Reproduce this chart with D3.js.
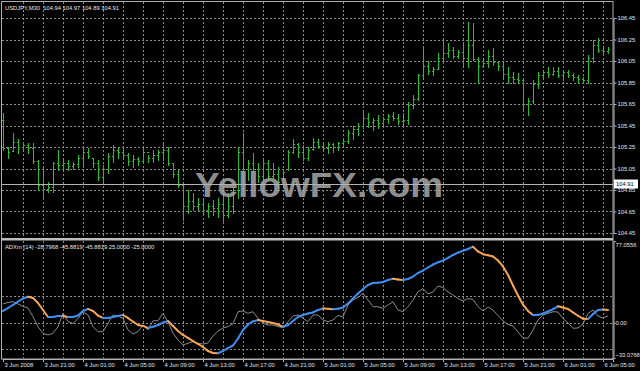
<!DOCTYPE html>
<html>
<head>
<meta charset="utf-8">
<script src="https://cdn.jsdelivr.net/npm/d3@7"></script>
<style>
  body { margin: 0; background: #000; }
  svg { display: block; }
  text { font-family: "Liberation Sans", Arial, sans-serif; }
</style>
</head>
<body>
<div id="chart"></div>
<script>
// USDJPY M30 bars, 3 Jun 17:00 .. 6 Jun 05:30
var barOpen = [105.50,105.24,105.21,105.30,105.25,105.27,105.24,105.12,104.90,104.86,
  104.88,105.10,105.08,105.10,105.07,105.09,105.15,105.20,105.15,105.10,
  104.97,105.05,105.17,105.22,105.20,105.18,105.12,105.14,105.12,105.20,
  105.15,105.18,105.20,105.22,105.10,105.00,104.90,104.70,104.75,104.70,
  104.72,104.66,104.70,104.68,104.72,104.62,104.70,104.85,105.20,105.05,
  105.10,105.05,104.98,105.10,104.98,105.00,104.92,105.05,105.20,105.28,
  105.20,105.15,105.23,105.30,105.26,105.24,105.28,105.25,105.29,105.31,
  105.38,105.42,105.45,105.52,105.48,105.50,105.47,105.51,105.54,105.52,
  105.49,105.50,105.64,105.70,105.92,106.00,105.96,105.98,106.08,106.12,
  106.15,106.10,106.13,106.08,106.20,106.07,106.00,106.03,106.10,106.04,
  106.00,105.93,105.90,105.88,105.87,105.65,105.68,105.84,105.92,105.95,
  105.93,105.96,105.92,105.95,105.92,105.90,105.88,105.87,106.08,106.20,
  106.15,106.14];
var barHigh = [105.57,105.25,105.38,105.32,105.30,105.29,105.29,105.13,105.06,104.92,
  105.11,105.22,105.13,105.13,105.11,105.18,105.25,105.24,105.15,105.13,
  105.08,105.19,105.27,105.25,105.25,105.19,105.18,105.16,105.25,105.18,
  105.22,105.22,105.29,105.25,105.10,105.04,104.92,104.85,104.82,104.78,
  104.76,104.73,104.76,104.78,104.82,104.82,104.88,105.25,105.38,105.13,
  105.19,105.10,105.15,105.13,105.10,105.06,105.04,105.22,105.32,105.29,
  105.27,105.25,105.33,105.32,105.30,105.30,105.29,105.30,105.33,105.41,
  105.45,105.47,105.59,105.57,105.52,105.55,105.53,105.56,105.58,105.56,
  105.57,105.67,105.73,105.93,106.17,106.05,105.99,106.12,106.25,106.22,
  106.18,106.15,106.22,106.41,106.40,106.09,106.06,106.15,106.17,106.04,
  106.03,105.99,105.95,105.94,105.87,105.71,105.87,105.95,105.97,105.99,
  105.99,105.99,105.97,105.97,105.94,105.92,105.90,106.11,106.25,106.26,
  106.17,106.18];
var barLow = [105.22,105.15,105.22,105.19,105.22,105.19,105.10,104.85,104.78,104.83,
  104.83,105.04,105.04,105.04,105.05,105.06,105.08,105.15,105.06,104.94,
  104.92,105.01,105.11,105.15,105.16,105.08,105.06,105.08,105.10,105.11,
  105.11,105.13,105.13,105.08,104.97,104.88,104.57,104.64,104.66,104.66,
  104.62,104.60,104.62,104.60,104.54,104.60,104.64,104.78,104.82,104.94,
  105.01,104.92,104.97,104.94,104.96,104.88,104.92,105.04,105.19,105.16,
  105.13,105.13,105.22,105.24,105.22,105.19,105.20,105.22,105.27,105.29,
  105.32,105.36,105.43,105.44,105.41,105.43,105.45,105.47,105.50,105.46,
  105.45,105.46,105.61,105.69,105.90,105.93,105.92,105.98,106.03,106.09,
  106.08,106.08,106.01,105.99,106.06,105.85,105.99,105.99,106.01,105.97,
  105.90,105.85,105.85,105.85,105.59,105.55,105.66,105.80,105.90,105.90,
  105.92,105.90,105.87,105.90,105.87,105.85,105.85,105.85,106.04,106.13,
  106.11,106.12];
var barClose = [105.24,105.20,105.30,105.25,105.27,105.24,105.12,104.90,104.86,104.88,
  105.10,105.08,105.10,105.07,105.09,105.15,105.20,105.17,105.10,104.97,
  105.05,105.17,105.22,105.20,105.18,105.12,105.14,105.12,105.20,105.15,
  105.18,105.20,105.22,105.10,105.00,104.90,104.70,104.75,104.70,104.72,
  104.66,104.70,104.68,104.72,104.62,104.70,104.85,105.20,105.05,105.10,
  105.05,104.98,105.10,104.98,105.00,104.92,105.02,105.20,105.28,105.20,
  105.15,105.22,105.30,105.26,105.24,105.28,105.25,105.29,105.31,105.38,
  105.42,105.45,105.52,105.48,105.50,105.47,105.51,105.54,105.52,105.49,
  105.50,105.64,105.70,105.92,106.00,105.96,105.98,106.08,106.12,106.15,
  106.10,106.13,106.08,106.20,106.07,106.00,106.03,106.10,106.04,106.00,
  105.93,105.90,105.88,105.87,105.65,105.68,105.84,105.92,105.95,105.93,
  105.96,105.92,105.95,105.92,105.90,105.88,105.87,106.08,106.20,106.15,
  106.14,106.16];

// ADXm (14) indicator: main coloured line and grey line
var adxLine = [11.2,14.0,16.8,20.1,22.9,24.6,23.4,18.7,12.1,5.5,
  5.5,6.5,6.5,5.5,5.5,6.9,11.2,13.1,11.2,6.9,
  4.6,4.6,5.5,6.5,7.4,4.6,1.1,-2.0,-2.9,-4.8,
  -3.6,-2.0,0.2,1.8,-2.9,-7.7,-11.4,-14.2,-17.1,-19.9,
  -22.7,-26.5,-28.4,-28.6,-26.5,-23.7,-21.3,-14.7,-6.7,-1.5,
  1.3,2.7,1.8,0.8,-0.1,-1.5,-3.9,-2.0,1.8,5.5,
  7.4,8.8,9.8,12.1,13.5,13.3,12.9,13.3,14.5,18.2,
  22.9,27.6,31.9,35.6,37.5,37.8,38.5,40.3,41.6,40.8,
  40.3,41.3,43.6,46.9,49.3,52.1,54.9,57.0,58.6,61.1,
  63.9,66.1,67.9,69.5,71.7,67.2,64.6,63.7,62.5,58.7,
  53.1,45.1,35.2,25.8,17.1,11.2,7.4,7.4,8.8,10.7,
  12.9,15.6,14.5,13.1,9.8,6.7,3.9,3.6,8.3,12.1,
  12.6,12.1];
var diLine = [17.8,19.2,19.9,17.8,15.4,14.0,5.8,-3.6,-9.8,-11.4,
  -9.8,-3.6,9.0,1.3,-0.6,4.1,10.5,7.4,-3.6,-8.3,
  -8.3,-0.4,7.4,6.5,4.3,-6.7,-10.5,-8.3,-2.0,-6.7,
  2.0,2.0,9.0,1.1,-9.8,-16.1,-20.8,-19.2,-17.7,-19.2,
  -19.9,-18.9,-12.4,-7.7,-4.8,-3.6,-0.8,10.5,11.2,9.0,
  10.5,4.3,-0.4,-2.0,-2.0,-3.6,-4.2,1.1,6.5,7.4,
  4.3,1.1,7.4,7.4,2.7,1.1,2.7,6.9,5.8,16.8,
  21.5,23.9,27.8,21.5,15.2,15.2,13.7,16.8,19.9,12.1,
  10.5,15.2,21.5,29.3,32.3,27.2,29.1,34.7,33.3,29.1,
  26.2,22.9,20.6,22.9,22.0,15.4,11.2,14.9,12.1,6.9,
  1.8,-1.5,-2.9,-8.6,-14.2,-14.5,-6.7,2.7,7.4,9.0,
  10.5,10.2,4.1,-0.1,-5.1,-4.8,-1.1,8.8,12.1,6.5,
  4.6,6.5];

// axis labels
var timeLabels = ["3 Jun 2008", "3 Jun 21:00", "4 Jun 01:00", "4 Jun 05:00", "4 Jun 09:00",
  "4 Jun 13:00", "4 Jun 17:00", "4 Jun 21:00", "5 Jun 01:00", "5 Jun 05:00", "5 Jun 09:00",
  "5 Jun 13:00", "5 Jun 17:00", "5 Jun 21:00", "6 Jun 01:00", "6 Jun 05:00"];
var priceTicks = [106.45, 106.25, 106.05, 105.85, 105.65, 105.45, 105.25, 105.05, 104.85, 104.65, 104.45];
var adxMax = 77.0556;
var adxMin = -33.0768;
var adxLevels = [25, 0, -25];
var lastPrice = 104.91;
var mainTitle = "USDJPY,M30\u00a0\u00a0104.94 104.97 104.89 104.91";
var adxTitle = "ADXm (14) -28.7968 -45.8819 -45.8819 25.0000 -25.0000";

var svgWidth = 640;
var svgHeight = 371;
var plotLeft = 2, plotRight = 613;
var mainTop = 18, mainBottom = 233;
var subTop = 241, subBottom = 358;
var fontSize = "5.8px";
var gridColor = "#8c8c8c";
var textColor = "#e6e6e6";

var svg = d3.select("#chart").append("svg")
  .attr("width", svgWidth)
  .attr("height", svgHeight)
  .style("background", "#000");

// scales
var x = d3.scaleLinear().domain([0, 122]).range([3, 613]);
var yPrice = d3.scaleLinear().domain([104.45, 106.45]).range([mainBottom, mainTop]);
var yAdx = d3.scaleLinear().domain([adxMin, adxMax]).range([subBottom, subTop]);

// vertical grid every 4 bars, both panes
var gridIdx = d3.range(4, 122, 4);
[[2, 238], [241, 358]].forEach(function(p) {
  svg.append("g").selectAll("line")
    .data(gridIdx).enter().append("line")
    .attr("x1", d => Math.round(x(d)) + 0.5)
    .attr("x2", d => Math.round(x(d)) + 0.5)
    .attr("y1", p[0]).attr("y2", p[1])
    .attr("stroke", gridColor)
    .attr("stroke-dasharray", "2,2")
    .attr("shape-rendering", "crispEdges");
});

// horizontal grid, price pane
svg.append("g").selectAll("line")
  .data(priceTicks).enter().append("line")
  .attr("x1", plotLeft).attr("x2", plotRight)
  .attr("y1", d => Math.round(yPrice(d)) + 0.5)
  .attr("y2", d => Math.round(yPrice(d)) + 0.5)
  .attr("stroke", gridColor)
  .attr("stroke-dasharray", "2,2")
  .attr("shape-rendering", "crispEdges");

// horizontal grid, indicator pane
svg.append("g").selectAll("line")
  .data(adxLevels).enter().append("line")
  .attr("x1", plotLeft).attr("x2", plotRight)
  .attr("y1", d => Math.round(yAdx(d)) + 0.5)
  .attr("y2", d => Math.round(yAdx(d)) + 0.5)
  .attr("stroke", gridColor)
  .attr("stroke-dasharray", "2,2")
  .attr("shape-rendering", "crispEdges");

// OHLC bars
var bars = d3.range(barHigh.length);
svg.append("g").selectAll("path")
  .data(bars).enter().append("path")
  .attr("d", function(i) {
    var px = Math.round(x(i)) + 0.5;
    var yo = Math.round(yPrice(barOpen[i])) + 0.5;
    var yc = Math.round(yPrice(barClose[i])) + 0.5;
    return "M" + px + "," + Math.round(yPrice(barHigh[i])) +
      "V" + (Math.round(yPrice(barLow[i])) + 1) +
      "M" + (px - 1.5) + "," + yo + "H" + px +
      "M" + px + "," + yc + "H" + (px + 1.5);
  })
  .attr("fill", "none")
  .attr("stroke", "#22c322")
  .attr("stroke-width", 1)
  .attr("shape-rendering", "crispEdges");

// watermark
svg.append("text")
  .attr("x", 195).attr("y", 197)
  .attr("textLength", 248)
  .attr("lengthAdjust", "spacingAndGlyphs")
  .attr("fill", "#a2a2a2")
  .attr("fill-opacity", 0.9)
  .style("font-size", "35px")
  .style("font-weight", "bold")
  .text("YellowFX.com");

// bid line
svg.append("line")
  .attr("x1", plotLeft).attr("x2", plotRight)
  .attr("y1", Math.round(yPrice(lastPrice)) + 0.5)
  .attr("y2", Math.round(yPrice(lastPrice)) + 0.5)
  .attr("stroke", "#b4b4b4");

// indicator lines
var grayLine = d3.line().x((d, i) => x(i)).y(d => yAdx(d));
svg.append("path")
  .datum(diLine)
  .attr("d", grayLine)
  .attr("fill", "none")
  .attr("stroke", "#8a8a8a")
  .attr("stroke-width", 1);

svg.append("g").selectAll("line")
  .data(d3.range(adxLine.length - 1)).enter().append("line")
  .attr("x1", i => x(i)).attr("y1", i => yAdx(adxLine[i]))
  .attr("x2", i => x(i + 1)).attr("y2", i => yAdx(adxLine[i + 1]))
  .attr("stroke", i => adxLine[i + 1] >= adxLine[i] ? "#3d8ff0" : "#f5a555")
  .attr("stroke-width", 2)
  .attr("stroke-linecap", "round");

// frame and pane separator
svg.append("rect")
  .attr("x", 1.5).attr("y", 1.5)
  .attr("width", plotRight - 1.5).attr("height", subBottom + 1 - 1.5)
  .attr("fill", "none")
  .attr("stroke", "#b0b0b0");
svg.append("rect")
  .attr("x", 1).attr("y", 238)
  .attr("width", plotRight - 1).attr("height", 2.5)
  .attr("fill", "#bdbdbd");

// price axis
var priceAxis = svg.append("g")
  .attr("transform", `translate(${plotRight + 0.5},0)`)
  .call(d3.axisRight(yPrice).tickValues(priceTicks).tickSize(3).tickPadding(1)
    .tickFormat(d3.format(".2f")));

// indicator axis
var adxAxis = svg.append("g")
  .attr("transform", `translate(${plotRight + 0.5},0)`)
  .call(d3.axisRight(yAdx).tickValues([adxMax, 0, adxMin]).tickSize(2).tickPadding(0)
    .tickFormat(d => d === 0 ? "0.00" : d3.format(".4f")(d)));
adxAxis.selectAll(".tick").filter(d => d === adxMax).select("text").attr("dy", "0.95em");
adxAxis.selectAll(".tick").filter(d => d === adxMin).select("text").attr("dy", "-0.25em");

// time axis
var timeAxis = svg.append("g")
  .attr("transform", `translate(0,${subBottom + 1})`)
  .call(d3.axisBottom(x).tickValues(d3.range(0, 122, 8)).tickSize(3).tickPadding(1)
    .tickFormat((d, k) => timeLabels[k]));
timeAxis.selectAll("text").attr("text-anchor", "start").attr("x", 1);

[priceAxis, adxAxis, timeAxis].forEach(function(a) {
  a.select(".domain").attr("stroke", "#b0b0b0");
  a.selectAll(".tick line").attr("stroke", "#b0b0b0");
  a.selectAll("text").attr("fill", textColor).style("font-size", fontSize)
    .style("font-family", "'Liberation Sans', Arial, sans-serif");
});

// last price label
var lpY = Math.round(yPrice(lastPrice));
svg.append("rect")
  .attr("x", 614).attr("y", lpY - 4.5)
  .attr("width", 24).attr("height", 9)
  .attr("fill", "#fff");
svg.append("text")
  .attr("x", 616).attr("y", lpY + 2)
  .attr("fill", "#000")
  .style("font-size", fontSize)
  .text(lastPrice.toFixed(2));

// pane titles
svg.append("text")
  .attr("x", 5).attr("y", 9.5)
  .attr("fill", textColor)
  .style("font-size", fontSize)
  .text(mainTitle);
svg.append("text")
  .attr("x", 5).attr("y", 248.5)
  .attr("fill", textColor)
  .style("font-size", fontSize)
  .text(adxTitle);
</script>
</body>
</html>
